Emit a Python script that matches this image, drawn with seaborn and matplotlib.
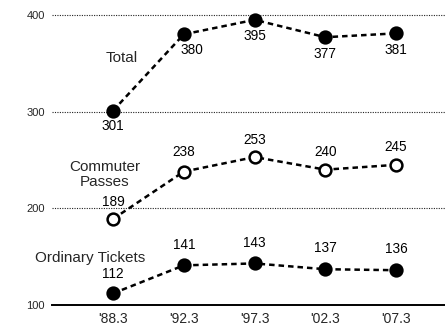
import pandas as pd
import matplotlib
matplotlib.use('Agg')
import matplotlib.pyplot as plt
import seaborn as sns

years = ["'88.3", "'92.3", "'97.3", "'02.3", "'07.3"]
total = [301, 380, 395, 377, 381]
commuter = [189, 238, 253, 240, 245]
ordinary = [112, 141, 143, 137, 136]
yticks = [100, 200, 300, 400]

df = pd.DataFrame({'x': range(len(years)), 'Total': total,
                   'Commuter Passes': commuter, 'Ordinary Tickets': ordinary})
df = df.melt(id_vars='x', var_name='series', value_name='value')

sns.set_theme(style='white')
plt.rcParams['font.family'] = ['Liberation Sans', 'DejaVu Sans']

fig = plt.figure(figsize=(4.45, 3.26), dpi=100)
ax = fig.add_axes([52 / 445, 21 / 326, 1 - 52 / 445, 305 / 326])

styles = {
    'Total': dict(mfc='black'),
    'Commuter Passes': dict(mfc='white'),
    'Ordinary Tickets': dict(mfc='black'),
}
for name, st in styles.items():
    sub = df[df.series == name]
    sns.lineplot(data=sub, x='x', y='value', ax=ax, color='black',
                 linestyle=(0, (2.2, 1.6)), linewidth=1.8, marker='o',
                 markersize=8.5, markerfacecolor=st['mfc'],
                 markeredgecolor='black', markeredgewidth=1.8, clip_on=False)

# value labels
def label_series(vals, offsets):
    for i, (v, off) in enumerate(zip(vals, offsets)):
        ax.annotate(str(v), (i, v), xytext=off, textcoords='offset points',
                    ha='center', va='center', fontsize=9.8, color='black')

label_series(total, [(0, -11), (6, -11), (0, -12), (0, -12), (0, -12)])
label_series(commuter, [(0, 12.5), (0, 14), (0, 12), (0, 13), (0, 13)])
label_series(ordinary, [(0, 14), (0, 15), (0, 15), (0, 15), (0, 15)])

ax.text(0.12, 356, 'Total', ha='center', va='center', fontsize=11)
ax.text(-0.12, 235, 'Commuter\nPasses', ha='center', va='center',
        fontsize=11, linespacing=1.05)
ax.text(-0.33, 149, 'Ordinary Tickets', ha='center', va='center', fontsize=11)

for y in yticks[1:]:
    ax.axhline(y, color='#222222', linestyle=(0, (1, 1.2)), linewidth=0.8,
               zorder=0)

ax.set_xlim(-0.862, 4.69)
ax.set_ylim(100, 415.5)
ax.set_xticks(range(len(years)))
ax.set_xticklabels(years, fontsize=10)
ax.set_yticks(yticks)
ax.set_yticklabels([str(t) for t in yticks], fontsize=8)
ax.tick_params(axis='both', length=0, pad=5)
ax.set_xlabel('')
ax.set_ylabel('')
sns.despine(ax=ax, left=True, top=True, right=True)
ax.spines['bottom'].set_color('black')
ax.spines['bottom'].set_linewidth(1.4)
ax.grid(False)

fig.savefig('out.png', dpi=100)
